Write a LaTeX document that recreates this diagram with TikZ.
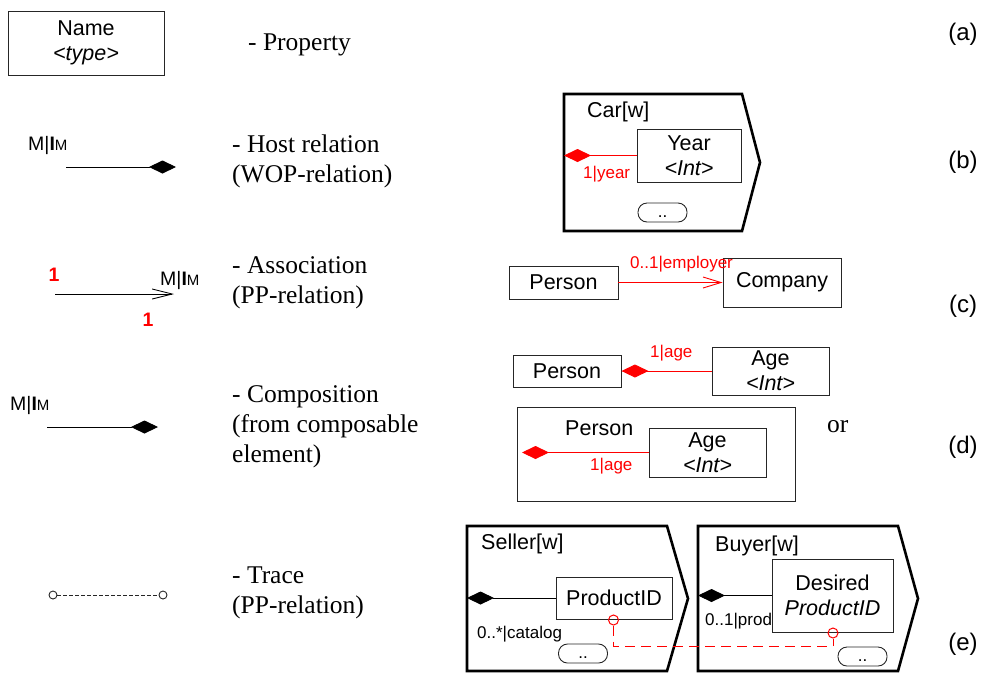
\documentclass[tikz,border=0pt]{standalone}
\usepackage{fontspec}
\setmainfont{Liberation Serif}
\setsansfont{Liberation Sans}
\usetikzlibrary{arrows.meta}
\newcommand{\mimark}{{\sffamily\fontsize{19.5}{21}\selectfont M|\textbf{I}{\fontsize{15}{16}\selectfont M}}}
\begin{document}
\begin{tikzpicture}[x=1pt,y=-1pt,
  prop/.style={draw=black!85, line width=0.9pt, align=center, inner sep=0pt,
    font=\sffamily\fontsize{21.5}{25}\selectfont},
  title/.style={anchor=base west, inner sep=0pt, font=\sffamily\fontsize{21.5}{25}\selectfont},
  desc/.style={anchor=base west, inner sep=0pt, font=\rmfamily\fontsize{25.5}{30}\selectfont},
  tag/.style={inner sep=0pt, font=\sffamily\fontsize{24}{28}\selectfont},
  mult/.style={anchor=base west, inner sep=0pt, font=\sffamily\fontsize{17}{20}\selectfont},
  redmult/.style={mult, text=red},
  one/.style={inner sep=0pt, text=red, font=\sffamily\bfseries\fontsize{19.5}{22}\selectfont},
  dots/.style={draw=black!85, line width=0.9pt, rounded corners=9pt, inner sep=0pt,
    minimum width=49pt, minimum height=19pt, text height=12pt, text depth=3pt,
    font=\sffamily\fontsize{17}{20}\selectfont},
  wsp/.style={draw=black, line width=2.6pt, line join=miter},
  link/.style={line width=0.9pt},
  hostend/.style={-{Diamond[length=27pt,width=13pt]}},
  assocend/.style={-{Straight Barb[length=18pt,width=11pt]}},
  lolli/.style={circle, draw=red, line width=1pt, minimum size=10pt, inner sep=0pt},
  ring/.style={circle, draw=black!85, line width=0.9pt, minimum size=8pt, inner sep=0pt},
]
\useasboundingbox (0,0) rectangle (981,673);

% ---------- left column: legend ----------
% (a) property
\node[prop, minimum width=156pt, minimum height=64pt] (nameBox) at (86,43) {Name\\\textit{<type>}};
\node[desc] (dA) at (248,50) {- Property};

% (b) host relation
\node[anchor=base west, inner sep=0pt] (mimB) at (28,150) {\mimark};
\coordinate (hostA) at (66,167);
\coordinate (hostB) at (176,167);
\draw[link, hostend] (hostA) -- (hostB);
\node[desc] (dB1) at (232,152) {- Host relation};
\node[desc] (dB2) at (232,182) {(WOP-relation)};

% (c) association
\node[one] (oneA) at (54,275) {1};
\node[anchor=base west, inner sep=0pt] (mimC) at (160,285) {\mimark};
\node[one] (oneB) at (148,320) {1};
\coordinate (asA) at (55,294);
\coordinate (asB) at (174,294);
\draw[link, -{Straight Barb[length=20pt,width=10pt]}] (asA) -- (asB);
\node[desc] (dC1) at (232,273) {- Association};
\node[desc] (dC2) at (232,303) {(PP-relation)};

% (d) composition
\node[anchor=base west, inner sep=0pt] (mimD) at (10,410) {\mimark};
\coordinate (coA) at (47,427);
\coordinate (coB) at (158,427);
\draw[link, hostend] (coA) -- (coB);
\node[desc] (dD1) at (232,402) {- Composition};
\node[desc] (dD2) at (232,432) {(from composable};
\node[desc] (dD3) at (232,462) {element)};

% (e) trace
\node[ring] (trA) at (53,595) {};
\node[ring] (trB) at (163,595) {};
\draw[link, draw=black!85, dash pattern=on 3.5pt off 2.5pt] (trA) -- (trB);
\node[desc] (dE1) at (232,583) {- Trace};
\node[desc] (dE2) at (232,613) {(PP-relation)};

% ---------- right column: examples ----------
% (b) Car workspace with a Year property
\draw[wsp] (564,94) -- (742,94) -- (760,162.5) -- (742,231) -- (564,231) -- cycle;
\coordinate (carL) at (564,155.5);
\node[title] (carT) at (587,117) {Car[w]};
\node[prop, minimum width=104pt, minimum height=53pt] (year) at (689,155.5) {Year\\\textit{<Int>}};
\draw[link, draw=red, fill=red, hostend] (year.west) -- (carL);
\node[redmult] (yearM) at (583,178) {1|year};
\node[dots] (carDots) at (662.5,212.5) {..};

% (c) Person -> Company
\node[prop, minimum width=109pt, minimum height=33pt] (pc) at (563.5,282.5) {Person};
\node[prop, minimum width=118pt, minimum height=49pt] (comp) at (782,282.5) {Company};
\draw[link, draw=red, assocend] (pc.east) -- (comp.west);
\node[redmult] (empM) at (630,268) {0..1|employer};

% (d) Person composed of Age, two forms
\node[prop, minimum width=108pt, minimum height=32pt] (pd1) at (567,371) {Person};
\node[prop, minimum width=117pt, minimum height=48pt] (age1) at (770.5,371) {Age\\\textit{<Int>}};
\draw[link, draw=red, fill=red, hostend] (age1.west) -- (pd1.east);
\node[redmult] (ageM1) at (650,357) {1|age};

\node[draw=black!85, line width=0.9pt, minimum width=278pt, minimum height=94pt, inner sep=0pt] (pd2) at (656,454) {};
\node[title] (pd2T) at (565,435) {Person};
\node[prop, minimum width=117pt, minimum height=49pt] (age2) at (707.5,452.5) {Age\\\textit{<Int>}};
\coordinate (pd2L) at (522,452.5);
\draw[link, draw=red, fill=red, hostend] (age2.west) -- (pd2L);
\node[redmult] (ageM2) at (590,470) {1|age};

\node[desc] (orT) at (827,432) {or};

% (e) Seller and Buyer workspaces joined by a trace
\draw[wsp] (467,526) -- (667,526) -- (688,598.5) -- (667,671) -- (467,671) -- cycle;
\node[title] (selT) at (481,549) {Seller[w]};
\node[prop, minimum width=116pt, minimum height=42pt] (prodid) at (614,598) {ProductID};
\coordinate (selL) at (467,598);
\draw[link, fill=black, hostend] (prodid.west) -- (selL);
\node[mult] (catM) at (477,638) {0..*|catalog};
\node[dots] (selDots) at (583,653.5) {..};

\draw[wsp] (698,526) -- (898,526) -- (918,598.5) -- (898,671) -- (698,671) -- cycle;
\node[title] (buyT) at (715,551) {Buyer[w]};
\node[mult] (prodM) at (705,625) {0..1|prod};
\node[prop, fill=white, minimum width=121pt, minimum height=73pt] (desired) at (832.5,595.5) {Desired\\\textit{ProductID}};
\coordinate (buyL) at (698,595.5);
\draw[link, fill=black, hostend] (desired.west) -- (buyL);
\node[dots] (buyDots) at (862.5,656.5) {..};

\node[lolli] (selC) at (613.5,620) {};
\node[lolli] (buyC) at (833,633) {};
\coordinate (trL) at (613.5,646);
\coordinate (trR) at (833,646);
\draw[link, draw=red, dash pattern=on 10pt off 6pt] (selC) -- (trL) -- (trR) -- (buyC);

% section tags
\node[tag] (tagA) at (963,34.5) {(a)};
\node[tag] (tagB) at (963,162.5) {(b)};
\node[tag] (tagC) at (963,306) {(c)};
\node[tag] (tagD) at (963,447.5) {(d)};
\node[tag] (tagE) at (963,644) {(e)};
\end{tikzpicture}
\end{document}
